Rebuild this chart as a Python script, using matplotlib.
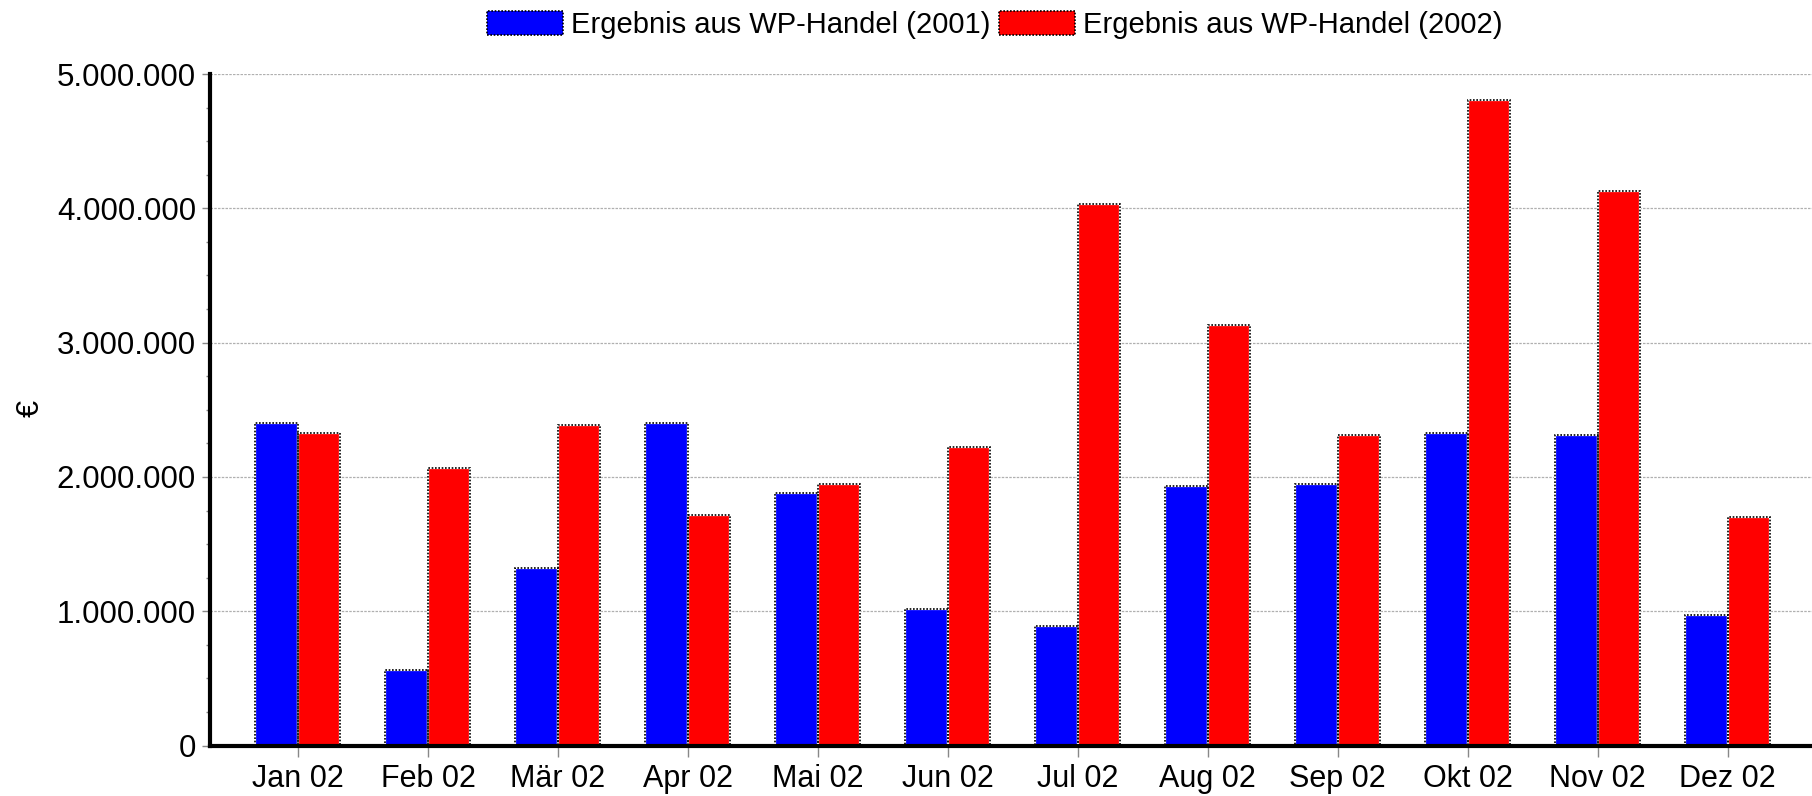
import numpy as np
import matplotlib
matplotlib.use("Agg")
import matplotlib.pyplot as plt
from matplotlib.ticker import FuncFormatter, MultipleLocator

plt.rcParams['font.family'] = ['Liberation Sans', 'DejaVu Sans']

# data (Euro)
months = ['Jan 02', 'Feb 02', 'Mär 02', 'Apr 02', 'Mai 02', 'Jun 02',
          'Jul 02', 'Aug 02', 'Sep 02', 'Okt 02', 'Nov 02', 'Dez 02']
wp_2001 = [2400000, 560000, 1320000, 2400000, 1880000, 1020000,
           890000, 1930000, 1950000, 2330000, 2310000, 975000]
wp_2002 = [2330000, 2070000, 2390000, 1720000, 1950000, 2220000,
           4030000, 3130000, 2310000, 4810000, 4130000, 1700000]
label_2001 = 'Ergebnis aus WP-Handel (2001)'
label_2002 = 'Ergebnis aus WP-Handel (2002)'

fig = plt.figure(figsize=(18.12, 7.96), dpi=100)
ax = fig.add_axes([0.1159, 0.0634, 0.8841, 0.8436])

x = np.arange(len(months))
w = 0.327
b1 = ax.bar(x - w / 2, wp_2001, w, color='#0000ff', edgecolor='white',
            linewidth=1.6, label=label_2001, zorder=3)
b2 = ax.bar(x + w / 2, wp_2002, w, color='#ff0000', edgecolor='white',
            linewidth=1.6, label=label_2002, zorder=3)
# dotted black outline on top (like the original rendering)
ax.bar(x - w / 2, wp_2001, w, fill=False, edgecolor='black',
       linewidth=1.2, linestyle=(0, (1, 1)), zorder=3.5)
ax.bar(x + w / 2, wp_2002, w, fill=False, edgecolor='black',
       linewidth=1.2, linestyle=(0, (1, 1)), zorder=3.5)

ax.set_xlim(-0.677, 11.65)
ax.set_ylim(0, 5000000)
ax.set_xticks(x)
ax.set_xticklabels(months, fontsize=22)
ax.yaxis.set_major_locator(MultipleLocator(1000000))
ax.yaxis.set_minor_locator(MultipleLocator(250000))
ax.yaxis.set_major_formatter(FuncFormatter(lambda v, p: f"{v:,.0f}".replace(",", ".")))
ax.tick_params(axis='y', labelsize=22.5, length=6, width=1, color='#888888', pad=4)
ax.tick_params(axis='y', which='minor', length=3, width=1, color='#888888')
ax.tick_params(axis='x', length=8, width=1, color='#888888', pad=5)

ax.grid(axis='y', color='#b0b0b0', linestyle=(0, (2, 1)), linewidth=0.9, zorder=0)

for s in ['top', 'right']:
    ax.spines[s].set_visible(False)
for s in ['left', 'bottom']:
    ax.spines[s].set_linewidth(3)
    ax.spines[s].set_zorder(4)

fig.text(0.017, 0.487, '€', rotation=90, fontsize=22, ha='center', va='center')

leg = fig.legend(handles=[b1, b2], loc='upper center', bbox_to_anchor=(0.549, 1.012),
                 ncol=2, frameon=False, fontsize=21, handlelength=2.6, handleheight=0.9,
                 handletextpad=0.27, columnspacing=0.3, borderpad=0.2)
for p in leg.get_patches():
    p.set_edgecolor('black')
    p.set_linestyle((0, (1, 1)))
    p.set_linewidth(1.2)

fig.savefig('out.png', dpi=100)
